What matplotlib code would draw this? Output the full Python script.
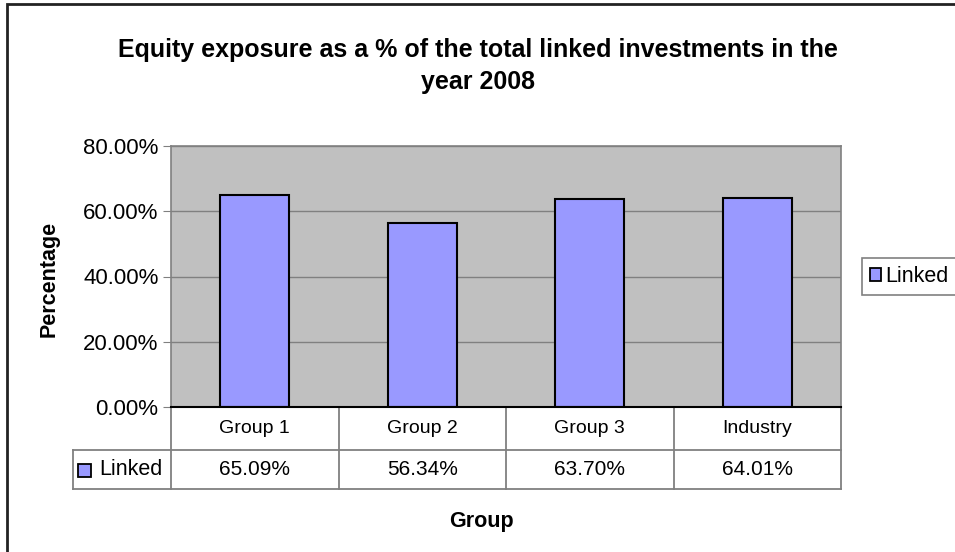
import matplotlib.pyplot as plt
import matplotlib.transforms as mtransforms
from matplotlib.patches import Rectangle
from matplotlib.lines import Line2D

plt.rcParams['font.family'] = ['Liberation Sans', 'DejaVu Sans']

groups = ['Group 1', 'Group 2', 'Group 3', 'Industry']
linked = [65.09, 56.34, 63.70, 64.01]
series_name = 'Linked'
yticks = [0, 20, 40, 60, 80]

bar_color = '#9999FF'
grid_color = '#808080'

fig = plt.figure(figsize=(9.55, 5.52), dpi=100)
ax = fig.add_axes([171 / 955, 1 - 407 / 552, 670 / 955, 261 / 552])
ax.set_facecolor('#C0C0C0')

x = list(range(len(groups)))
ax.bar(x, linked, width=0.41, color=bar_color, edgecolor='black', linewidth=1.5, zorder=3)

ax.set_xlim(-0.5, len(groups) - 0.5)
ax.set_ylim(0, 80)
ax.set_yticks(yticks)
ax.set_yticklabels(['%.2f%%' % v for v in yticks], fontsize=16)
ax.yaxis.grid(True, color=grid_color, linewidth=1)
ax.set_axisbelow(True)
ax.set_xticks([])
ax.tick_params(axis='y', length=6, color=grid_color, pad=3)
for s in ['top', 'right', 'left']:
    ax.spines[s].set_color(grid_color)
    ax.spines[s].set_linewidth(1.2)
ax.spines['bottom'].set_color('black')
ax.spines['bottom'].set_linewidth(1.5)
ax.spines['bottom'].set_zorder(4)

# data table under the plot
h = 261.0
w = 670.0
r1 = -43 / h
r2 = -82 / h
lab_left = (73 - 171) / w
blend = mtransforms.blended_transform_factory(ax.transData, ax.transAxes)
lkw = dict(color=grid_color, linewidth=1.3, clip_on=False)
ax.add_line(Line2D([0, 0], [0, r2], transform=ax.transAxes, **lkw))
ax.add_line(Line2D([1, 1], [0, r2], transform=ax.transAxes, **lkw))
ax.add_line(Line2D([lab_left, 1], [r1, r1], transform=ax.transAxes, **lkw))
ax.add_line(Line2D([lab_left, 1], [r2, r2], transform=ax.transAxes, **lkw))
ax.add_line(Line2D([lab_left, lab_left], [r1, r2], transform=ax.transAxes, **lkw))
for i in range(1, len(groups)):
    ax.add_line(Line2D([i - 0.5, i - 0.5], [0, r2], transform=blend, **lkw))
for i, g in enumerate(groups):
    ax.text(i, r1 / 2, g, transform=blend, ha='center', va='center', fontsize=14)
    ax.text(i, (r1 + r2) / 2, '%.2f%%' % linked[i], transform=blend,
            ha='center', va='center', fontsize=15)
ax.add_patch(Rectangle((-93 / w, (r1 + r2) / 2 - 7 / h), 13 / w, 13 / h,
                       transform=ax.transAxes, facecolor=bar_color,
                       edgecolor='black', linewidth=1.3, clip_on=False))
ax.text(-72 / w, (r1 + r2) / 2, series_name, transform=ax.transAxes,
        ha='left', va='center', fontsize=15.5)

ax.set_ylabel('Percentage', fontsize=15.5, fontweight='bold')
ax.yaxis.set_label_coords((60 - 171) / w, 0.49)
fig.text(481 / 955, 1 - 522 / 552, 'Group', ha='center', va='center',
         fontsize=15.5, fontweight='bold')
fig.text(478 / 955, 1 - 66 / 552,
         'Equity exposure as a % of the total linked investments in the\nyear 2008',
         ha='center', va='center', fontsize=18, fontweight='bold', linespacing=1.45)

handle = Rectangle((0, 0), 1, 1, facecolor=bar_color, edgecolor='black', linewidth=1.3)
leg = fig.legend([handle], [series_name], loc='center left',
                 bbox_to_anchor=(862 / 955, 1 - 276.5 / 552), fontsize=15.5,
                 fancybox=False, framealpha=1, edgecolor=grid_color,
                 handlelength=0.55, handleheight=0.55, handletextpad=0.2,
                 borderpad=0.35, borderaxespad=0)
leg.get_frame().set_linewidth(1.2)

# outer chart border (right and bottom fall outside the image)
fig.add_artist(Rectangle((6.5 / 955, -0.1), 1.2, 1 - 3.5 / 552 + 0.1,
                         transform=fig.transFigure, fill=False,
                         edgecolor='#222222', linewidth=2))

fig.savefig('out.png', dpi=100)
